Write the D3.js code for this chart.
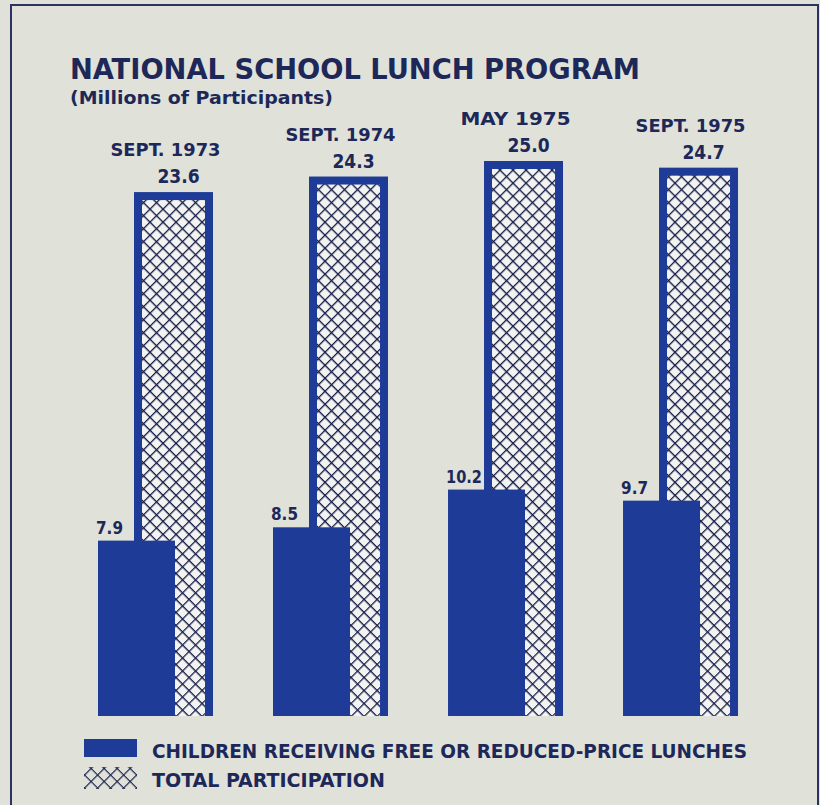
<!DOCTYPE html>
<html>
<head>
<meta charset="utf-8">
<title>National School Lunch Program</title>
<style>
  body { margin: 0; background: #e0e2da; }
  svg { display: block; }
  text { font-family: "DejaVu Sans Condensed", "DejaVu Sans", sans-serif; font-weight: bold; fill: #1d2858; }
</style>
</head>
<body>
<svg width="820" height="805"></svg>
<script src="https://cdn.jsdelivr.net/npm/d3@7"></script>
<script>
// data
const periods = ["SEPT. 1973", "SEPT. 1974", "MAY 1975", "SEPT. 1975"]
const freeReduced = [7.9, 8.5, 10.2, 9.7]
const totalPart = [23.6, 24.3, 25.0, 24.7]
const legendLabels = ["CHILDREN RECEIVING FREE OR REDUCED-PRICE LUNCHES", "TOTAL PARTICIPATION"]

const blue = "#1f3b98"

const svg = d3.select("svg")

// crosshatch pattern
const defs = svg.append("defs")
const pat = defs.append("pattern").attr("id", "hatch")
  .attr("patternUnits", "userSpaceOnUse")
  .attr("width", 9.2).attr("height", 9.2)
  .attr("patternTransform", "rotate(45)")
pat.append("rect").attr("width", 9.2).attr("height", 9.2).attr("fill", "#f3f4f2")
pat.append("path").attr("d", "M0,0 H9.2 M0,0 V9.2")
  .attr("stroke", "#19204a").attr("stroke-width", 2.6)

const pat2 = defs.append("pattern").attr("id", "hatch2")
  .attr("patternUnits", "userSpaceOnUse")
  .attr("width", 9.2).attr("height", 9.2)
  .attr("patternTransform", "rotate(45)")
pat2.append("path").attr("d", "M0,0 H9.2 M0,0 V9.2")
  .attr("stroke", "#19204a").attr("stroke-width", 2.4)

// frame
svg.append("path").attr("d", "M11,805 V5 H818 V805")
  .attr("fill", "none").attr("stroke", "#2a3363").attr("stroke-width", 2)

// titles
svg.append("text").attr("x", 70).attr("y", 79)
  .attr("textLength", 570).attr("lengthAdjust", "spacingAndGlyphs")
  .style("font-size", "29px").text("NATIONAL SCHOOL LUNCH PROGRAM")
svg.append("text").attr("x", 70).attr("y", 104)
  .attr("textLength", 263).attr("lengthAdjust", "spacingAndGlyphs")
  .style("font-size", "18px").text("(Millions of Participants)")

// scales
const x = d3.scaleBand().domain(periods).range([98, 738]).paddingInner(0.343)
const y = d3.scaleLinear().domain([0, 25]).range([716, 161])

const freeW = 77, totOff = 36, totW = 79, bw = 8

const g = svg.append("g")
const grp = g.selectAll("g").data(periods).enter().append("g")
  .attr("transform", d => `translate(${x(d)},0)`)

// total participation bars (border + hatch)
grp.append("rect")
  .attr("x", totOff).attr("width", totW)
  .attr("y", (d, i) => y(totalPart[i]))
  .attr("height", (d, i) => y(0) - y(totalPart[i]))
  .attr("fill", blue)
grp.append("rect")
  .attr("x", totOff + bw).attr("width", totW - 2 * bw)
  .attr("y", (d, i) => y(totalPart[i]) + bw)
  .attr("height", (d, i) => y(0) - y(totalPart[i]) - bw)
  .attr("fill", "url(#hatch)")

// free or reduced bars
grp.append("rect")
  .attr("x", 0).attr("width", freeW)
  .attr("y", (d, i) => y(freeReduced[i]))
  .attr("height", (d, i) => y(0) - y(freeReduced[i]))
  .attr("fill", blue)

// labels
grp.append("text")
  .attr("x", totOff + totW / 2 + 5)
  .attr("y", (d, i) => y(totalPart[i]) - 9)
  .attr("text-anchor", "middle")
  .style("font-size", "19px")
  .text((d, i) => totalPart[i].toFixed(1))
grp.append("text")
  .attr("x", (totOff + totW) / 2 + 10)
  .attr("y", (d, i) => y(totalPart[i]) - 36)
  .attr("text-anchor", "middle")
  .attr("textLength", 110).attr("lengthAdjust", "spacingAndGlyphs")
  .style("font-size", "18px")
  .text(d => d)
grp.append("text")
  .attr("x", -2)
  .attr("y", (d, i) => y(freeReduced[i]) - 7)
  .style("font-size", "18px")
  .attr("textLength", (d, i) => freeReduced[i].toFixed(1).length * 9)
  .attr("lengthAdjust", "spacingAndGlyphs")
  .text((d, i) => freeReduced[i].toFixed(1))

// legend
const lg = svg.append("g")
lg.append("rect").attr("x", 84).attr("y", 739).attr("width", 53).attr("height", 18).attr("fill", blue)
lg.append("rect").attr("x", 84).attr("y", 767).attr("width", 53).attr("height", 22).attr("fill", "url(#hatch2)")
lg.selectAll("text.leg").data(legendLabels).enter().append("text")
  .attr("class", "leg")
  .attr("x", 152).attr("y", (d, i) => 758 + i * 29)
  .attr("textLength", (d, i) => i === 0 ? 595 : 233)
  .attr("lengthAdjust", "spacingAndGlyphs")
  .style("font-size", "19px")
  .text(d => d)
</script>
</body>
</html>
